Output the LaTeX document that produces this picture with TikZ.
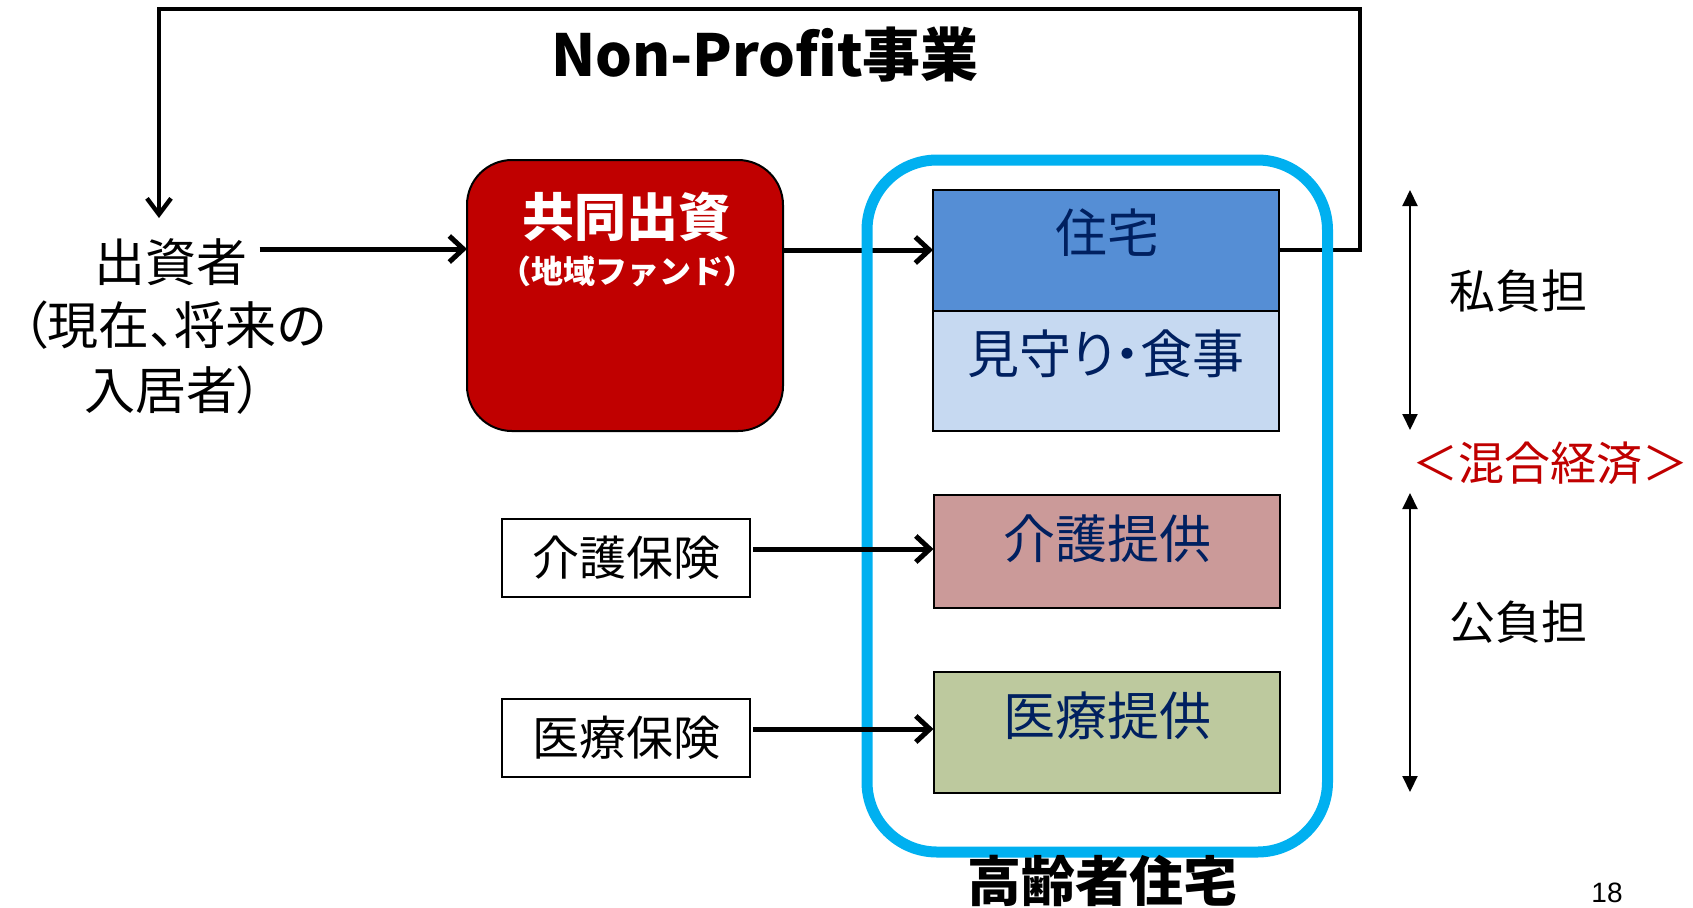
\documentclass[tikz,border=0pt]{standalone}
\usepackage{fontspec}
\setmainfont{Noto Sans CJK JP}
\newfontfamily\jpp{Noto Sans CJK JP}[RawFeature=+palt]
\newfontfamily\numfont{Liberation Sans}
\usetikzlibrary{arrows.meta}
\definecolor{fundred}{RGB}{192,0,0}
\definecolor{homeblue}{RGB}{0,176,240}
\definecolor{housefill}{RGB}{85,142,213}
\definecolor{watchfill}{RGB}{198,217,241}
\definecolor{carefill}{RGB}{203,154,153}
\definecolor{medfill}{RGB}{189,201,158}
\definecolor{navytext}{RGB}{0,32,96}
\definecolor{mixred}{RGB}{192,0,0}
\begin{document}
\begin{tikzpicture}[x=0.5pt,y=-0.5pt,
  every node/.style={inner sep=0pt, outer sep=0pt},
  svcbox/.style={draw=black, line width=1pt, minimum width=173pt},
  svctext/.style={text=navytext, font=\fontsize{26}{26}\selectfont},
  insbox/.style={draw=black, line width=1pt, minimum width=124pt, minimum height=39pt, fill=white, font=\fontsize{23.5}{23.5}\selectfont},
  bigarrow/.style={line width=2.5pt, -{Straight Barb[length=7pt,width=13pt]}},
  fbline/.style={line width=2.2pt, line join=miter, -{Straight Barb[length=8pt,width=12pt]}},
  dblarrow/.style={line width=1pt, {Triangle[length=8pt,width=7.5pt]}-{Triangle[length=8pt,width=7.5pt]}},
  sidetext/.style={font=\fontsize{23}{23}\selectfont},
]
\useasboundingbox (0,0) rectangle (1693,907);

% title
\node[font=\bfseries\fontsize{29}{29}\selectfont] (title) at (765,55) {Non-Profit事業};

% investor
\node[font=\jpp\fontsize{25.5}{25.5}\selectfont] (inv) at (171,262) {出資者};
\node[font=\jpp\fontsize{25.5}{32.5}\selectfont, align=center] (invsub) at (174,358) {（現在、将来の\\入居者）};
\coordinate (invtop) at (159,218);

% fund
\node[draw=black, line width=1pt, fill=fundred, rounded corners=22.5pt,
      minimum width=158pt, minimum height=135.5pt] (fund) at (625,295.5) {};
\node[text=white, font=\bfseries\fontsize{26}{26}\selectfont] (fundtitle) at (626,216.5) {共同出資};
\node[text=white, font=\bfseries\fontsize{16}{16}\selectfont] (fundsub) at (627,271) {（地域ファンド）};

% service boxes
\node[svcbox, fill=housefill, minimum height=60.5pt] (house) at (1106,250.5) {};
\node[svctext] (housetext) at (1107,233) {住宅};
\node[svcbox, fill=watchfill, minimum height=60pt] (watch) at (1106,371) {};
\node[svctext, font=\jpp\fontsize{26}{26}\selectfont] (watchtext) at (1106,354) {見守り・食事};
\node[svcbox, fill=carefill, minimum height=56.5pt] (care) at (1106.5,551.5) {};
\node[svctext] (caretext) at (1107,539) {介護提供};
\node[svcbox, fill=medfill, minimum height=60.5pt] (med) at (1106.5,732.5) {};
\node[svctext] (medtext) at (1107,716) {医療提供};

% insurance boxes
\node[insbox] (careins) at (626,558) {介護保険};
\node[insbox] (medins) at (626,737.5) {医療保険};

% top connectors
\draw[bigarrow] (inv.east |- 0,249) ++(12,0) -- (fund.west |- 0,249);
\draw[bigarrow] (fund.east |- 0,250) -- (house.west |- 0,250);
\draw[fbline] (house.east |- 0,250) -- (1360,250) -- (1360,9) -- (159,9) -- (invtop);

% elderly housing outline
\node[draw=homeblue, line width=5.5pt, rounded corners=35pt,
      minimum width=230.25pt, minimum height=346pt] (home) at (1097.25,506) {};
\node[font=\bfseries\fontsize{27}{27}\selectfont] (hometext) at (1102,881) {高齢者住宅};

% insurance arrows
\draw[bigarrow] (careins.east |- 0,549) ++(3,0) -- (care.west |- 0,549);
\draw[bigarrow] (medins.east |- 0,729) ++(3,0) -- (med.west |- 0,729);

% burden annotation
\coordinate (pa1) at (1410,190);
\coordinate (pa2) at (1410,430);
\coordinate (pb1) at (1410,493);
\coordinate (pb2) at (1410,792);
\draw[dblarrow] (pa1) -- (pa2);
\draw[dblarrow] (pb1) -- (pb2);
\node[sidetext] (private) at (1518,291) {私負担};
\node[sidetext] (public) at (1518,622) {公負担};
\node[sidetext, text=mixred] (mixed) at (1550,463) {＜混合経済＞};

% page number
\node[font=\numfont\fontsize{14}{14}\selectfont] (pageno) at (1607,893) {18};
\end{tikzpicture}
\end{document}
